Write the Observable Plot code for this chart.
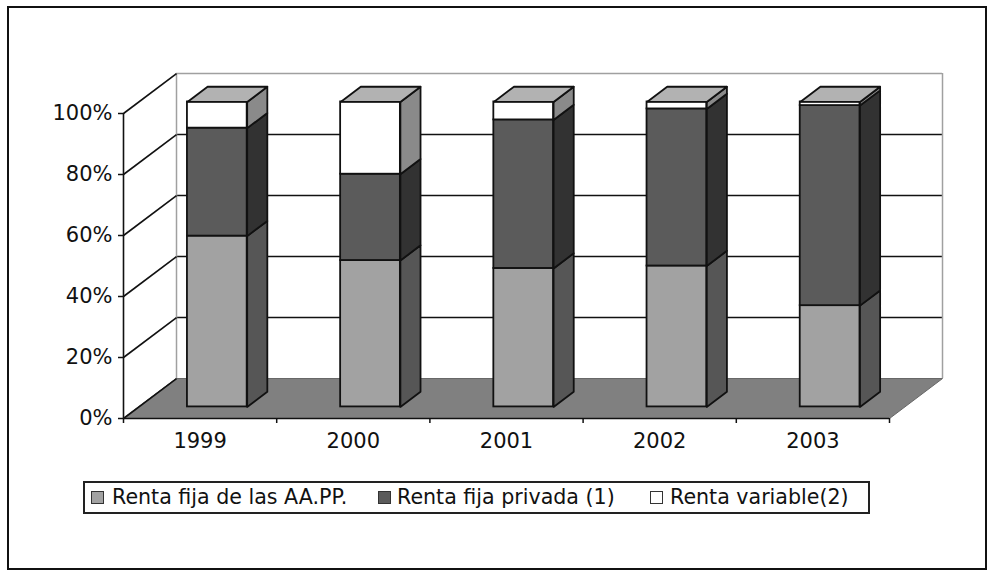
<!DOCTYPE html>
<html>
<head>
<meta charset="utf-8">
<script src="https://cdn.jsdelivr.net/npm/d3@7"></script>
<script src="https://cdn.jsdelivr.net/npm/@observablehq/plot@0.6"></script>
<style>
  html, body { margin: 0; padding: 0; background: #fff; }
  #wrap { position: relative; width: 994px; height: 572px; overflow: hidden; font-family: "DejaVu Sans", Verdana, sans-serif; }
  #chart { position: absolute; left: 0; top: 0; }
  #frame { position: absolute; left: 7px; top: 6px; width: 980px; height: 564px; border: 2.5px solid #111; box-sizing: border-box; pointer-events: none; }
  #legend { position: absolute; left: 83px; top: 481px; width: 787px; height: 33px; border: 2px solid #222; box-sizing: border-box; background: #fff; }
  .sw { position: absolute; top: 8px; width: 13px; height: 13px; border: 1.5px solid #333; box-sizing: border-box; }
  .lt { position: absolute; top: 2px; font-size: 20.6px; line-height: 24px; color: #111; white-space: nowrap; }
</style>
</head>
<body>
<div id="wrap">
  <div id="chart"></div>
  <div id="legend"></div>
  <div id="frame"></div>
</div>
<script>
// ---- data ----
const years = ["1999", "2000", "2001", "2002", "2003"];
const seriesNames = ["Renta fija de las AA.PP.", "Renta fija privada (1)", "Renta variable(2)"];
const rentaFijaAAPP = [56.0, 48.0, 45.4, 46.2, 33.2];
const rentaFijaPrivada = [35.4, 28.3, 48.7, 51.5, 65.6];
const rentaVariable = [8.6, 23.7, 5.9, 2.3, 1.2];
const yTicks = [0, 20, 40, 60, 80, 100];

// ---- styling / projection ----
const seriesValues = [rentaFijaAAPP, rentaFijaPrivada, rentaVariable];
const frontColors = ["#a2a2a2", "#5b5b5b", "#ffffff"];
const sideColors = ["#565656", "#323232", "#8a8a8a"];
const topColor = "#b2b2b2";
const DX = 0.346, DY = 13.1;      // one unit of depth in data units
const ZF = 0.29, ZB = 0.67, BW = 0.39, OFF = 0.012;
const P = (x, y, z) => ({x: x + z * DX, y: y + z * DY});

// stacked segments
const segs = [];
years.forEach((yr, i) => {
  let base = 0;
  seriesValues.forEach((vals, s) => {
    segs.push({i, s, year: yr, lo: base, hi: base + vals[i]});
    base += vals[i];
  });
});

const fronts = segs.map(d => {
  const c = d.i + 0.5 + OFF;
  const a = P(c - BW / 2, d.lo, ZF), b = P(c + BW / 2, d.hi, ZF);
  return {x1: a.x, x2: b.x, y1: a.y, y2: b.y, fill: frontColors[d.s]};
});

const polys = [];
segs.forEach((d, k) => {
  const c = d.i + 0.5 + OFF;
  const xr = c + BW / 2, xl = c - BW / 2;
  [P(xr, d.lo, ZF), P(xr, d.hi, ZF), P(xr, d.hi, ZB), P(xr, d.lo, ZB)]
    .forEach(p => polys.push({...p, id: "s" + k, fill: sideColors[d.s]}));
  if (d.s === seriesValues.length - 1) {
    [P(xl, d.hi, ZF), P(xr, d.hi, ZF), P(xr, d.hi, ZB), P(xl, d.hi, ZB)]
      .forEach(p => polys.push({...p, id: "t" + k, fill: topColor}));
  }
});

const n = years.length;
const floor = [P(0, 0, 0), P(n, 0, 0), P(n, 0, 1), P(0, 0, 1)];
const backGrid = yTicks.filter(t => t > 0 && t < 100);

const plot = Plot.plot({
  width: 994,
  height: 470,
  marginLeft: 123,
  marginRight: 105,
  marginTop: 113,
  marginBottom: 52,
  x: {type: "linear", domain: [0, n]},
  y: {type: "linear", domain: [0, 100]},
  color: {type: "identity"},
  style: {fontFamily: "DejaVu Sans, Verdana, sans-serif", fontSize: "20px", background: "transparent", color: "#111"},
  marks: [
    // floor
    Plot.line(floor, {x: "x", y: "y", curve: "linear-closed", fill: "#808080", stroke: "#666", strokeWidth: 1}),
    // back wall gridlines
    Plot.ruleY(backGrid, {y: d => d + DY, x1: DX, x2: n + DX, stroke: "#111", strokeWidth: 1.6}),
    // back wall outline
    Plot.ruleY([100], {y: d => d + DY, x1: DX, x2: n + DX, stroke: "#a0a0a0", strokeWidth: 1.5}),
    Plot.ruleX([DX, n + DX], {x: d => d, y1: DY, y2: 100 + DY, stroke: "#a0a0a0", strokeWidth: 1.5}),
    // left wall diagonals
    Plot.link(yTicks, {x1: 0, y1: d => d, x2: DX, y2: d => d + DY, stroke: "#111", strokeWidth: 1.6}),
    // front axes lines
    Plot.ruleX([0], {y1: 0, y2: 100, stroke: "#111", strokeWidth: 1.6}),
    Plot.ruleY([0], {x1: 0, x2: n, stroke: "#111", strokeWidth: 1.6}),
    Plot.axisY({ticks: yTicks, tickFormat: d => d + "%", tickSize: 5, tickPadding: 6, fontSize: 21, label: null, stroke: "#111", strokeWidth: 1.5}),
    Plot.axisX({ticks: d3.range(n + 1), tickSize: 5, tickFormat: () => "", label: null, stroke: "#111", strokeWidth: 1.5}),
    Plot.text(years, {x: (d, i) => i + 0.5, y: 0, dy: 23, text: d => d, fontSize: 21, fill: "#111"}),
    // bars
    Plot.rect(fronts, {x1: "x1", x2: "x2", y1: "y1", y2: "y2", fill: "fill", stroke: "#111", strokeWidth: 1.8}),
    Plot.line(polys, {x: "x", y: "y", z: "id", fill: "fill", curve: "linear-closed", stroke: "#111", strokeWidth: 1.8, strokeLinejoin: "round"})
  ]
});
document.getElementById("chart").appendChild(plot);

// legend
const legend = document.getElementById("legend");
const swX = [6, 293, 565];
const txX = [27, 312, 585];
seriesNames.forEach((name, s) => {
  const sw = document.createElement("div");
  sw.className = "sw";
  sw.style.left = swX[s] + "px";
  sw.style.background = frontColors[s];
  legend.appendChild(sw);
  const t = document.createElement("div");
  t.className = "lt";
  t.style.left = txX[s] + "px";
  t.textContent = name;
  legend.appendChild(t);
});
</script>
</body>
</html>
